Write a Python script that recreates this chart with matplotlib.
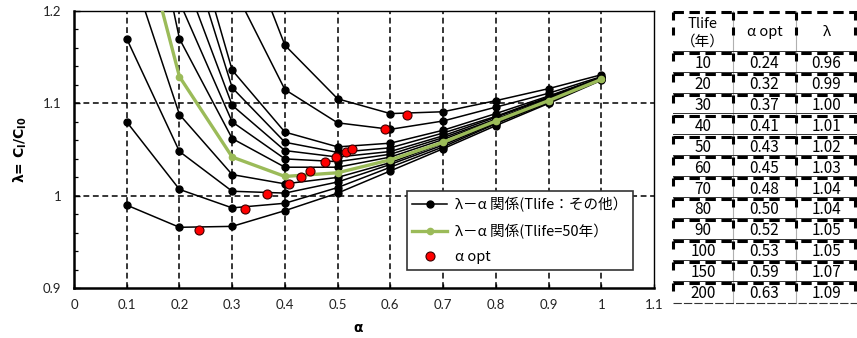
import numpy as np
import matplotlib
matplotlib.use("Agg")
import matplotlib.pyplot as plt
from matplotlib.lines import Line2D

plt.rcParams["font.family"] = ["Lato", "Noto Sans CJK JP", "DejaVu Sans"]
plt.rcParams["lines.scale_dashes"] = False

# ---- data -------------------------------------------------------------
alpha = [0.1, 0.2, 0.3, 0.4, 0.5, 0.6, 0.7, 0.8, 0.9, 1.0]
tlife = [10, 20, 30, 40, 50, 60, 70, 80, 90, 100, 150, 200]
nan = np.nan

lam_10 = [0.990, 0.966, 0.967, 0.984, 1.003, 1.027, 1.051, 1.076, 1.100, 1.125]
lam_20 = [1.080, 1.007, 0.987, 0.992, 1.009, 1.031, 1.053, 1.078, 1.101, 1.126]
lam_30 = [1.170, 1.048, 1.005, 1.003, 1.015, 1.034, 1.055, 1.079, 1.102, 1.126]
lam_40 = [1.260, 1.088, 1.023, 1.013, 1.020, 1.036, 1.057, 1.080, 1.103, 1.126]
lam_50 = [1.348, 1.129, 1.042, 1.021, 1.025, 1.039, 1.058, 1.081, 1.103, 1.126]
lam_60 = [1.440, 1.170, 1.062, 1.031, 1.031, 1.042, 1.061, 1.082, 1.104, 1.127]
lam_70 = [nan, 1.210, 1.080, 1.040, 1.037, 1.045, 1.063, 1.083, 1.105, 1.127]
lam_80 = [nan, 1.250, 1.098, 1.049, 1.042, 1.048, 1.065, 1.085, 1.106, 1.127]
lam_90 = [nan, 1.300, 1.117, 1.058, 1.047, 1.052, 1.068, 1.086, 1.107, 1.128]
lam_100 = [nan, 1.334, 1.136, 1.069, 1.053, 1.057, 1.071, 1.089, 1.108, 1.128]
lam_150 = [nan, nan, 1.228, 1.115, 1.079, 1.072, 1.081, 1.096, 1.111, 1.129]
lam_200 = [nan, nan, 1.310, 1.163, 1.105, 1.089, 1.091, 1.103, 1.116, 1.131]

other_curves = [lam_10, lam_20, lam_30, lam_40, lam_60, lam_70, lam_80,
                lam_90, lam_100, lam_150, lam_200]

alpha_opt = [0.238, 0.324, 0.366, 0.407, 0.431, 0.448, 0.476, 0.497,
             0.516, 0.527, 0.589, 0.631]
lam_opt = [0.963, 0.986, 1.0017, 1.0126, 1.020, 1.027, 1.037, 1.042,
           1.047, 1.051, 1.072, 1.0877]

x_ticks = [0, 0.1, 0.2, 0.3, 0.4, 0.5, 0.6, 0.7, 0.8, 0.9, 1.0, 1.1]
x_ticklabels = ["0", "0.1", "0.2", "0.3", "0.4", "0.5", "0.6", "0.7",
                "0.8", "0.9", "1", "1.1"]
y_ticks = [0.9, 1.0, 1.1, 1.2]
y_ticklabels = ["0.9", "1", "1.1", "1.2"]

label_other = "λ－α 関係(Tlife：その他）"
label_50 = "λ－α 関係(Tlife=50年）"
label_opt = "α opt"

GREEN = "#9BBB59"
W, H = 857, 338

fig = plt.figure(figsize=(W / 100, H / 100), dpi=100)
ax = fig.add_axes([74 / W, 1 - 288.3 / H, 580 / W, 277.3 / H])

# ---- curves -------------------------------------------------------------
for ys in other_curves:
    ax.plot(alpha, ys, color="black", lw=1.1, marker="o", ms=5,
            mfc="black", mec="black", zorder=3)
ax.plot(alpha, lam_50, color=GREEN, lw=2.4, marker="o", ms=4.5,
        mfc=GREEN, mec=GREEN, zorder=4)
ax.plot(alpha_opt, lam_opt, ls="none", marker="o", ms=6.5, mfc="#FF0000",
        mec="#3a0000", mew=0.8, zorder=5)

ax.set_xlim(0, 1.1)
ax.set_ylim(0.9, 1.2)
ax.set_xticks(x_ticks)
ax.set_xticklabels(x_ticklabels)
ax.set_yticks(y_ticks)
ax.set_yticklabels(y_ticklabels)
ax.set_yticks(np.arange(0.92, 1.2, 0.02), minor=True)
ax.tick_params(axis="y", which="major", direction="in", length=4,
               width=1.0, pad=9, labelsize=9.5, colors="black")
ax.tick_params(axis="y", which="minor", direction="in", length=3, width=0.9)
ax.tick_params(axis="x", which="major", direction="in", length=3,
               width=1.0, pad=8, labelsize=9.5)
for lbl in ax.get_xticklabels() + ax.get_yticklabels():
    lbl.set_color("#222222")

# dashed grid
for gx in x_ticks[1:-1]:
    ax.axvline(gx, color="black", lw=1.1, dashes=(4.2, 2.6), zorder=1)
for gy in [1.0, 1.1]:
    ax.axhline(gy, color="black", lw=1.1, dashes=(4.2, 2.6), zorder=1)

for side in ["left", "bottom"]:
    ax.spines[side].set_linewidth(1.8)
for side in ["top", "right"]:
    ax.spines[side].set_linewidth(1.0)

ax.set_xlabel("α", fontsize=10, fontweight="bold",
              family=["DejaVu Sans"])
ax.xaxis.set_label_coords(0.49, -0.118)
ax.set_ylabel(r"λ= C$_\mathbf{l}$/C$_\mathbf{l0}$", fontsize=10,
              fontweight="bold", family=["DejaVu Sans"])
ax.yaxis.set_label_coords(-0.078, 0.5)

# ---- legend -------------------------------------------------------------
handles = [
    Line2D([], [], color="black", lw=1.1, marker="o", ms=5),
    Line2D([], [], color=GREEN, lw=2.4, marker="o", ms=4.5),
    Line2D([], [], ls="none", marker="o", ms=6.5, mfc="#FF0000",
           mec="#3a0000", mew=0.8),
]
leg = ax.legend(handles, [label_other, label_50, label_opt],
                loc="upper left", bbox_to_anchor=(0.574, 0.351),
                prop={"family": ["Noto Sans CJK JP"], "size": 10.5},
                frameon=True, fancybox=False, framealpha=1,
                edgecolor="#333333", borderpad=0.38, labelspacing=0.8,
                handlelength=2.4, handletextpad=0.5, borderaxespad=0)
leg.get_frame().set_linewidth(1.2)

# ---- table --------------------------------------------------------------
tab = fig.add_axes([0, 0, 1, 1])
tab.set_xlim(0, W)
tab.set_ylim(H, 0)
tab.axis("off")
tab.patch.set_visible(False)

col_x = [673, 733, 796, 857]
top = 11
head_bot = 51.7
row_h = 20.9
n_rows = len(tlife)
bottom = head_bot + n_rows * row_h

# thin vertical separators
for cx in col_x[1:3]:
    tab.plot([cx, cx], [top, bottom], color="#b0b0b0", lw=0.8)

row_tops = [top, head_bot] + [head_bot + i * row_h for i in range(1, n_rows)]
for i, yt in enumerate(row_tops):
    # thin rule on the upper edge, heavy dashed border right below it
    if i > 0:
        tab.plot([col_x[0], W], [yt - 1.0, yt - 1.0], color="#333333", lw=0.7)
    tab.plot([col_x[0], W], [yt + 1.2, yt + 1.2], color="black", lw=2.2,
             dashes=(7.5, 4.0), solid_capstyle="butt", dash_capstyle="butt")
    for cx in col_x:
        xx = cx - 1.5 if cx == W else cx
        tab.plot([xx, xx], [yt + 1, yt + 9], color="black", lw=2.2,
                 solid_capstyle="butt")
        if i == 0:
            tab.plot([xx, xx], [yt + 16, yt + 24], color="black", lw=2.2,
                     solid_capstyle="butt")
tab.plot([col_x[0], W], [bottom, bottom], color="#333333", lw=0.8,
         dashes=(6, 1.5))

cx_mid = [(col_x[i] + col_x[i + 1]) / 2 for i in range(3)]
jp = ["Noto Sans CJK JP"]
tab.text(cx_mid[0], 24, "Tlife", ha="center", va="center", fontsize=10.5,
         family=jp)
tab.text(cx_mid[0], 41.5, "（年）", ha="center", va="center", fontsize=10.5,
         family=jp)
tab.text(cx_mid[1], 32, "α opt", ha="center", va="center", fontsize=10.5,
         family=jp)
tab.text(cx_mid[2], 32, "λ", ha="center", va="center", fontsize=10.5,
         family=jp)
for i in range(n_rows):
    yc = head_bot + i * row_h + row_h / 2 + 1.5
    tab.text(cx_mid[0], yc, str(tlife[i]), ha="center", va="center",
             fontsize=11, family=jp)
    tab.text(cx_mid[1], yc, f"{alpha_opt[i]:.2f}", ha="center", va="center",
             fontsize=11, family=jp)
    tab.text(cx_mid[2], yc, f"{lam_opt[i]:.2f}", ha="center", va="center",
             fontsize=11, family=jp)

fig.savefig("out.png", dpi=100, facecolor="white")
